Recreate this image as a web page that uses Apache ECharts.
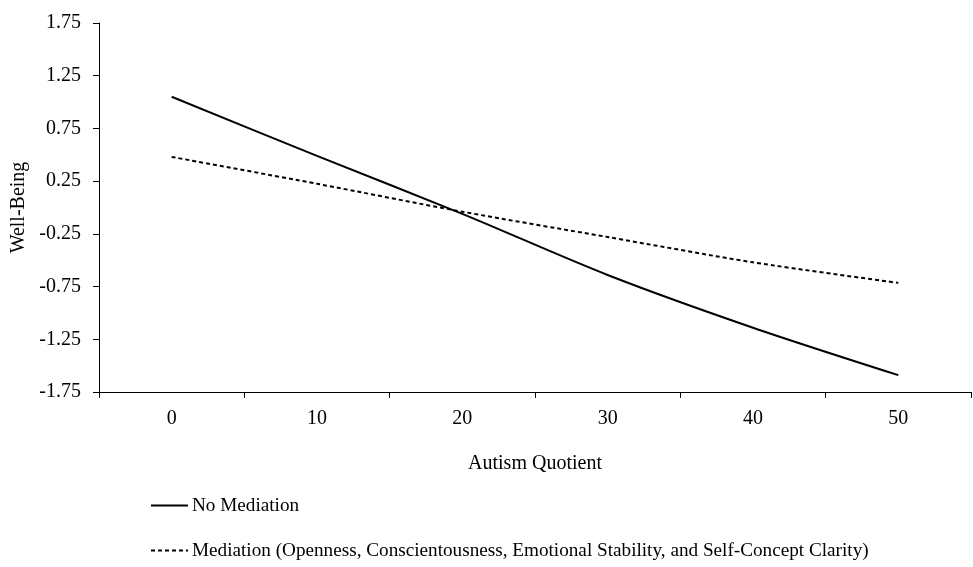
<!DOCTYPE html>
<html>
<head>
<meta charset="utf-8">
<script src="https://cdn.jsdelivr.net/npm/echarts@6/dist/echarts.min.js"></script>
<style>html,body{margin:0;padding:0;background:#fff;}#c{width:973px;height:567px;}</style>
</head>
<body>
<div id="c"></div>
<script>
var categories = ['0', '10', '20', '30', '40', '50'];
var noMediation = [1.05, 0.49, -0.06, -0.64, -1.14, -1.59];
var mediation = [0.48, 0.225, -0.04, -0.28, -0.52, -0.715];
var yTicks = [-1.75, -1.25, -0.75, -0.25, 0.25, 0.75, 1.25, 1.75];
var seriesNames = ['No Mediation', 'Mediation (Openness, Conscientousness, Emotional Stability, and Self-Concept Clarity)'];

var FONT = 'Liberation Serif';
var AX = 20, LG = 19.2;
var legendBase = {orient: 'vertical', left: 150, padding: 0, itemWidth: 37, itemHeight: 14, itemGap: 5,
  itemStyle: {opacity: 0},
  textStyle: {fontFamily: FONT, fontSize: LG, color: '#000', padding: [0, 0, 0, -1]}};
var chart = echarts.init(document.getElementById('c'), null, {renderer: 'canvas'});
chart.setOption({
  animation: false,
  backgroundColor: '#fff',
  textStyle: {fontFamily: FONT, color: '#000'},
  grid: {left: 99, right: 2, top: 23, bottom: 175, containLabel: false},
  legend: [
    Object.assign({}, legendBase, {data: [seriesNames[0]], top: 496}),
    Object.assign({}, legendBase, {data: [seriesNames[1]], top: 541})
  ],
  xAxis: {
    type: 'category', data: categories, boundaryGap: true,
    name: 'Autism Quotient', nameLocation: 'middle', nameGap: 62,
    nameTextStyle: {fontFamily: FONT, fontSize: AX, color: '#000'},
    axisLine: {onZero: false, lineStyle: {color: '#000', width: 1}},
    axisTick: {show: true, length: 6, lineStyle: {color: '#000'}},
    axisLabel: {fontFamily: FONT, fontSize: AX, color: '#000', margin: 17},
    splitLine: {show: false}
  },
  yAxis: {
    type: 'value', min: -1.75, max: 1.75,
    name: 'Well-Being', nameLocation: 'middle', nameGap: 64,
    nameTextStyle: {fontFamily: FONT, fontSize: AX, color: '#000'},
    axisLine: {show: true, lineStyle: {color: '#000', width: 1}},
    axisTick: {show: true, length: 6, customValues: yTicks, lineStyle: {color: '#000'}},
    axisLabel: {fontFamily: FONT, fontSize: AX, color: '#000', margin: 18, customValues: yTicks,
      formatter: function (v) { return v.toFixed(2); }},
    splitLine: {show: false}
  },
  series: [
    {name: seriesNames[0], type: 'line', data: noMediation, symbol: 'none', smooth: 0.3,
     lineStyle: {color: '#000', width: 2, type: 'solid'}, itemStyle: {color: '#000'}},
    {name: seriesNames[1], type: 'line', data: mediation, symbol: 'none', smooth: 0.3,
     lineStyle: {color: '#000', width: 2, type: [4, 3]}, itemStyle: {color: '#000'}}
  ]
});
</script>
</body>
</html>
